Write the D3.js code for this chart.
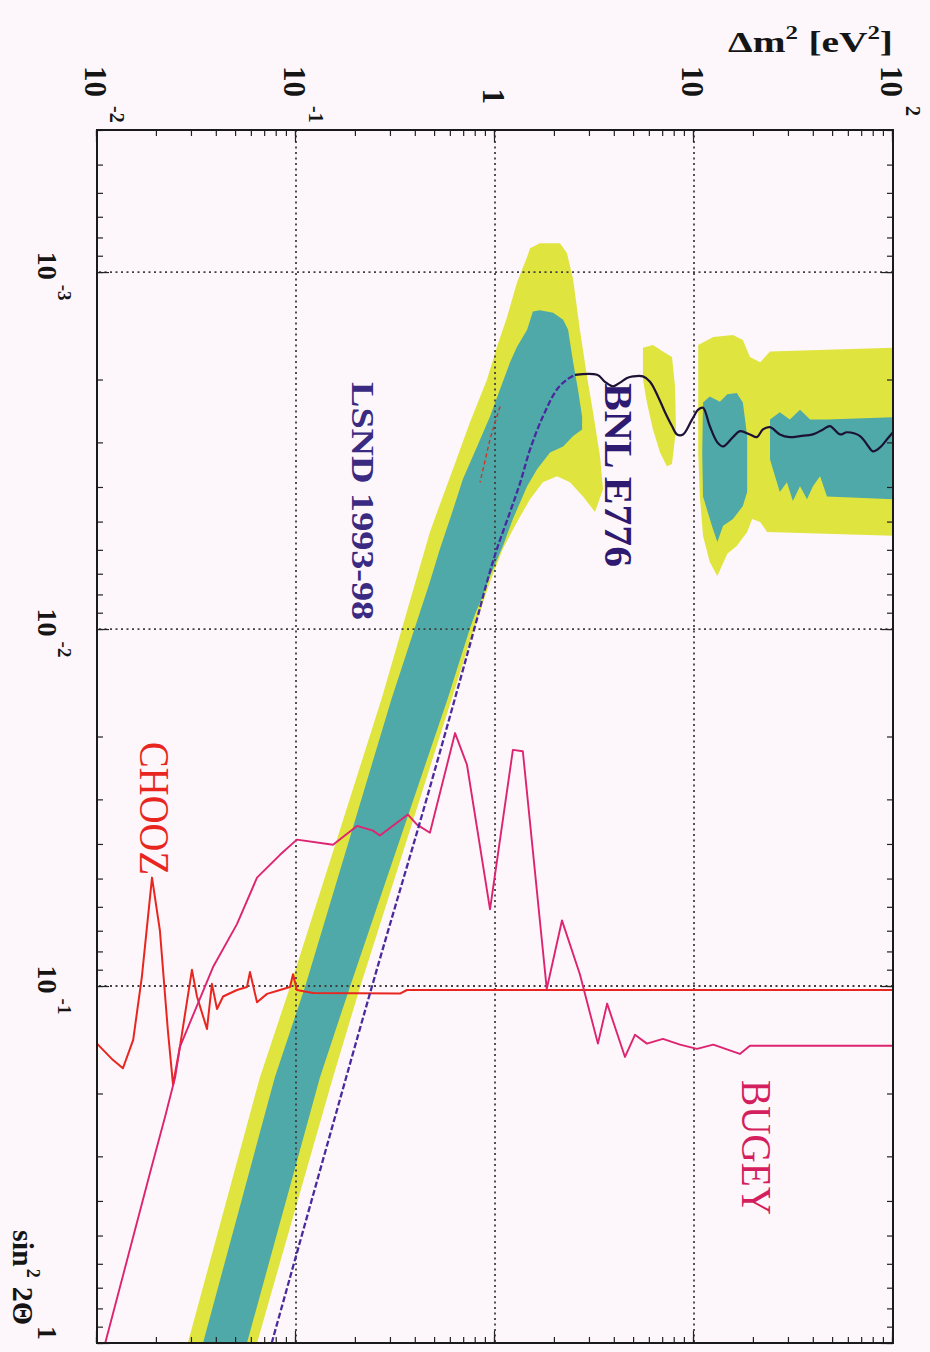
<!DOCTYPE html>
<html>
<head>
<meta charset="utf-8">
<script src="https://cdn.jsdelivr.net/npm/d3@7"></script>
<style>
  html, body { margin: 0; padding: 0; background: #fdf6fa; }
  svg { display: block; }
  text { font-family: "Liberation Serif", "Times New Roman", serif; }
</style>
</head>
<body>
<svg id="chart" width="930" height="1352"></svg>
<script>
// ---- axis ticks and labels ------------------------------------------------
const dm2Ticks = [0.01, 0.1, 1, 10, 100];
const dm2TickLabels = [["10", "-2"], ["10", "-1"], ["1", ""], ["10", ""], ["10", "2"]];
const sinTicks = [1e-3, 1e-2, 1e-1, 1];
const sinTickLabels = [["10", "-3"], ["10", "-2"], ["10", "-1"], ["1", ""]];
const dm2Grid = [0.1, 1, 10];
const sinGrid = [1e-3, 1e-2, 1e-1];

// ---- LSND allowed regions, points are [sin^2 2theta, dm^2 (eV^2)] -------
const lsnd99Main = [
  [1.0, 0.0286], [0.180, 0.0659], [0.1006, 0.0933], [0.0156, 0.270],
  [0.00535, 0.471], [0.00470, 0.512], [0.00356, 0.615], [0.00264, 0.748],
  [0.00200, 0.912], [0.00162, 1.023], [0.00134, 1.148], [0.00107, 1.29],
  [0.000908, 1.45], [0.000857, 1.50], [0.000830, 1.68], [0.000830, 2.12],
  [0.000885, 2.30], [0.00105, 2.47], [0.00145, 2.67], [0.00196, 2.90],
  [0.00247, 3.11], [0.00328, 3.37], [0.00406, 3.49], [0.00470, 3.18],
  [0.00425, 2.77], [0.00388, 2.38], [0.00373, 2.05], [0.00388, 1.74],
  [0.00433, 1.50], [0.00501, 1.29], [0.00596, 1.096], [0.00737, 0.944],
  [0.00893, 0.841], [0.00997, 0.784], [0.0156, 0.608], [0.1006, 0.210],
  [0.180, 0.1535], [1.0, 0.0637]
];
const lsnd99Blob = [
  [0.00163, 5.54], [0.00160, 6.22], [0.00167, 6.98], [0.00173, 7.75],
  [0.00209, 8.03], [0.00276, 8.12], [0.00345, 7.75], [0.00350, 7.31],
  [0.00320, 6.75], [0.00276, 6.22], [0.00232, 5.80], [0.00200, 5.54]
];
const lsnd99High = [
  [0.00160, 10.5], [0.00152, 12.5], [0.00150, 15.7], [0.00155, 17.6],
  [0.00173, 19.1], [0.00179, 21.5], [0.00167, 24.1], [0.00163, 100],
  [0.00548, 100], [0.00535, 23.3], [0.00501, 21.5], [0.00492, 19.6],
  [0.00535, 18.5], [0.00585, 16.4], [0.00615, 14.7], [0.00710, 13.1],
  [0.00649, 12.0], [0.00548, 11.1], [0.00425, 10.7], [0.00320, 10.5],
  [0.00209, 10.5]
];
const lsnd90Main = [
  [1.0, 0.0341], [0.180, 0.0783], [0.1006, 0.111], [0.0156, 0.303],
  [0.00737, 0.471], [0.00596, 0.529], [0.00492, 0.594], [0.00380, 0.690],
  [0.00308, 0.813], [0.00254, 0.944], [0.00213, 1.06], [0.00179, 1.19],
  [0.00162, 1.29], [0.00145, 1.45], [0.00129, 1.55], [0.00128, 1.68],
  [0.00130, 1.96], [0.00136, 2.20], [0.00145, 2.33], [0.00179, 2.47],
  [0.00213, 2.61], [0.00254, 2.74], [0.00276, 2.74], [0.00288, 2.47],
  [0.00308, 2.20], [0.00320, 1.89], [0.00356, 1.63], [0.00398, 1.45],
  [0.00492, 1.23], [0.00585, 1.096], [0.00710, 0.944], [0.00807, 0.871],
  [0.00893, 0.803], [0.00997, 0.748], [0.0156, 0.580], [0.1006, 0.1866],
  [0.180, 0.132], [1.0, 0.0567]
];
const lsnd90IslandA = [
  [0.00232, 11.1], [0.00223, 12.0], [0.00231, 13.5], [0.00220, 14.7],
  [0.00218, 16.4], [0.00232, 17.6], [0.00288, 18.5], [0.00413, 18.5],
  [0.00452, 17.6], [0.00492, 15.7], [0.00514, 14.0], [0.00570, 13.1],
  [0.00514, 12.3], [0.00425, 11.1], [0.00320, 11.0]
];
const lsnd90IslandB = [
  [0.00259, 24.1], [0.00247, 27.0], [0.00259, 30.3], [0.00243, 34.1],
  [0.00259, 38.3], [0.00259, 46.6], [0.00255, 100], [0.00433, 100],
  [0.00425, 46.6], [0.00373, 43.0], [0.00398, 39.6], [0.00433, 37.0],
  [0.00398, 34.1], [0.00438, 31.4], [0.00388, 29.3], [0.00413, 27.0],
  [0.00356, 24.9], [0.00335, 24.1]
];

// ---- exclusion limits, points are [sin^2 2theta, dm^2 (eV^2)] -----------
const choozLimit = [
  [0.145, 0.0100], [0.161, 0.0120], [0.170, 0.0135], [0.1415, 0.0152],
  [0.0944, 0.0168], [0.0497, 0.0189], [0.0698, 0.0207], [0.133, 0.0227],
  [0.189, 0.0241], [0.148, 0.0261], [0.0901, 0.0300], [0.107, 0.0318],
  [0.132, 0.0357], [0.0986, 0.0378], [0.116, 0.0401], [0.107, 0.0430],
  [0.1026, 0.0505], [0.1006, 0.0567], [0.0914, 0.0587], [0.111, 0.0637],
  [0.1052, 0.0715], [0.1026, 0.0831], [0.1006, 0.0933], [0.0927, 0.0966],
  [0.1026, 0.101], [0.1046, 0.122], [0.105, 0.333], [0.1026, 0.361],
  [0.1026, 100]
];
const bugeyLimit = [
  [1.0, 0.0110], [0.334, 0.01846], [0.232, 0.0220], [0.180, 0.0247],
  [0.148, 0.0261], [0.0885, 0.0383], [0.0671, 0.0505], [0.0497, 0.0637],
  [0.0429, 0.0831], [0.0389, 0.101], [0.0402, 0.1535], [0.0356, 0.2026],
  [0.0367, 0.2437], [0.0379, 0.264], [0.0331, 0.365], [0.0353, 0.4055],
  [0.0372, 0.471], [0.01956, 0.630], [0.0240, 0.723], [0.0610, 0.944],
  [0.0218, 1.23], [0.0220, 1.38], [0.1019, 1.82], [0.0655, 2.17],
  [0.0927, 2.67], [0.145, 3.29], [0.112, 3.66], [0.158, 4.50],
  [0.137, 5.05], [0.145, 5.80], [0.1406, 6.98], [0.146, 8.51],
  [0.150, 10.35], [0.146, 12.5], [0.155, 17.0], [0.147, 19.1],
  [0.147, 100]
];
const bnlLimit = [
  [1.0, 0.0755], [0.1026, 0.238], [0.0297, 0.455], [0.00935, 0.813],
  [0.00737, 0.912], [0.00596, 1.023], [0.00470, 1.19], [0.00388, 1.34],
  [0.00314, 1.50], [0.00254, 1.74], [0.00213, 2.05], [0.00200, 2.30],
  [0.00194, 2.52], [0.00194, 3.26], [0.00203, 3.57], [0.00209, 3.92],
  [0.00204, 4.25], [0.00198, 4.61], [0.00196, 4.94], [0.00196, 5.54],
  [0.00203, 6.01], [0.00223, 6.59], [0.00247, 7.15], [0.00270, 7.75],
  [0.00285, 8.22], [0.00285, 8.81], [0.00259, 9.77], [0.00243, 10.5],
  [0.00240, 11.1], [0.00270, 12.0], [0.00300, 13.1], [0.00308, 14.0],
  [0.00290, 15.7], [0.00279, 17.0], [0.00285, 19.1], [0.00290, 20.7],
  [0.00276, 22.2], [0.00272, 24.1], [0.00285, 27.0], [0.00290, 30.3],
  [0.00288, 34.1], [0.00285, 39.6], [0.00276, 44.5], [0.00270, 48.2],
  [0.00285, 54.2], [0.00281, 58.7], [0.00288, 68.3], [0.00304, 74.0],
  [0.00318, 79.3], [0.00310, 86.1], [0.00294, 93.3], [0.00281, 100]
];
const bnlSplit = 12;           // dashed below this point, solid above
const redFragment = [[0.00238, 1.06], [0.00294, 0.944], [0.00388, 0.841]];

// ---- geometry: the plot is drawn in its own frame, then turned 90 deg ----
const W = 1213, H = 796;
const sx = d3.scaleLog().domain([4e-4, 1]).range([0, W]);
const sy = d3.scaleLog().domain([0.01, 100]).range([H, 0]);

const svg = d3.select("#chart");
svg.append("rect").attr("width", 930).attr("height", 1352).attr("fill", "#fdf6fa");

const g = svg.append("g").attr("transform", "translate(893,130) rotate(90)");
g.append("clipPath").attr("id", "plotArea")
  .append("rect").attr("width", W).attr("height", H);
const plot = g.append("g").attr("clip-path", "url(#plotArea)");

const poly = d3.line().x(d => sx(d[0])).y(d => sy(d[1])).curve(d3.curveLinearClosed);
const lin = d3.line().x(d => sx(d[0])).y(d => sy(d[1]));
const smooth = d3.line().x(d => sx(d[0])).y(d => sy(d[1])).curve(d3.curveCatmullRom.alpha(0.5));

// 99% CL (yellow) then 90% CL (teal)
const YELLOW = "#e0e43e", TEAL = "#4fa9a8";
[lsnd99Main, lsnd99Blob, lsnd99High].forEach(p =>
  plot.append("path").attr("d", poly(p)).attr("fill", YELLOW));
[lsnd90Main, lsnd90IslandA, lsnd90IslandB].forEach(p =>
  plot.append("path").attr("d", poly(p)).attr("fill", TEAL));

// dotted grid
dm2Grid.forEach(v => plot.append("line")
  .attr("x1", 0).attr("x2", W).attr("y1", sy(v)).attr("y2", sy(v))
  .attr("stroke", "#404040").attr("stroke-width", 1.8).attr("stroke-dasharray", "2,3.5"));
sinGrid.forEach(v => plot.append("line")
  .attr("y1", 0).attr("y2", H).attr("x1", sx(v)).attr("x2", sx(v))
  .attr("stroke", "#404040").attr("stroke-width", 1.8).attr("stroke-dasharray", "2,3.5"));

// limit curves
plot.append("path").attr("d", lin(redFragment)).attr("fill", "none")
  .attr("stroke", "#d8321e").attr("stroke-width", 1.4).attr("stroke-dasharray", "4,3");
plot.append("path").attr("d", lin(choozLimit)).attr("fill", "none")
  .attr("stroke", "#e8261f").attr("stroke-width", 2).attr("stroke-linejoin", "round");
plot.append("path").attr("d", lin(bugeyLimit)).attr("fill", "none")
  .attr("stroke", "#dc2470").attr("stroke-width", 1.9).attr("stroke-linejoin", "round");
plot.append("path").attr("d", smooth(bnlLimit.slice(0, bnlSplit + 1))).attr("fill", "none")
  .attr("stroke", "#4a2a9e").attr("stroke-width", 2.3).attr("stroke-dasharray", "6,2.5");
plot.append("path").attr("d", smooth(bnlLimit.slice(bnlSplit))).attr("fill", "none")
  .attr("stroke", "#1c1236").attr("stroke-width", 2.2);

// frame ticks (inside), minor and major
function ticks(axisFn, scale, pos, values, size) {
  const a = axisFn(scale).tickValues(values).tickSize(-size).tickFormat("");
  const el = g.append("g").attr("transform", pos).call(a);
  el.select(".domain").remove();
  el.selectAll("line").attr("stroke", "#222").attr("stroke-width", 1.2);
}
const sinMinor = sx.ticks().filter(v => v >= 4e-4 && v <= 1);
const dmMinor = sy.ticks();
ticks(d3.axisBottom, sx, `translate(0,${H})`, sinMinor, 6);
ticks(d3.axisTop, sx, "translate(0,0)", sinMinor, 6);
ticks(d3.axisLeft, sy, "translate(0,0)", dmMinor, 6);
ticks(d3.axisRight, sy, `translate(${W},0)`, dmMinor, 6);
ticks(d3.axisBottom, sx, `translate(0,${H})`, sinTicks, 12);
ticks(d3.axisTop, sx, "translate(0,0)", sinTicks, 12);
ticks(d3.axisLeft, sy, "translate(0,0)", dm2Ticks, 12);
ticks(d3.axisRight, sy, `translate(${W},0)`, dm2Ticks, 12);

g.append("rect").attr("width", W).attr("height", H)
  .attr("fill", "none").attr("stroke", "#1a1a1a").attr("stroke-width", 2);

// sin^2 2theta tick labels (below the frame in the plot's own frame)
sinTicks.forEach((v, i) => {
  const [base, sup] = sinTickLabels[i];
  const last = i === sinTicks.length - 1;
  const t = g.append("text").attr("x", last ? sx(v) - 3 : sx(v) + 4).attr("y", H + 59)
    .attr("text-anchor", last ? "end" : "middle").attr("font-size", 28).attr("font-weight", "bold")
    .attr("fill", "#151515");
  t.append("tspan").text(base);
  if (sup) t.append("tspan").attr("dx", 5).attr("dy", -20).attr("font-size", 19).text(sup);
});

// dm^2 tick labels (left of the frame)
dm2Ticks.forEach((v, i) => {
  const [base, sup] = dm2TickLabels[i];
  const end = base === "1" ? -26 : -33;
  g.append("text").attr("x", end).attr("y", sy(v) + 12)
    .attr("text-anchor", "end").attr("font-size", 31).attr("font-weight", "bold")
    .attr("fill", "#151515").text(base);
  if (sup) g.append("text").attr("x", -24).attr("y", sy(v) - 13)
    .attr("text-anchor", "start").attr("font-size", 20).attr("font-weight", "bold")
    .attr("fill", "#151515").text(sup);
});

// axis titles
const xTitle = g.append("text").attr("x", W - 18).attr("y", H + 84)
  .attr("text-anchor", "end").attr("font-size", 30).attr("font-weight", "bold")
  .attr("fill", "#151515");
xTitle.append("tspan").text("sin");
xTitle.append("tspan").attr("dy", -14).attr("dx", 2).attr("font-size", 18).text("2");
xTitle.append("tspan").attr("dy", 14).attr("dx", 9).text("2Θ");

const yTitle = svg.append("text").attr("x", 893).attr("y", 52)
  .attr("text-anchor", "end").attr("font-size", 30).attr("font-weight", "bold")
  .attr("fill", "#151515").attr("textLength", 165).attr("lengthAdjust", "spacingAndGlyphs");
yTitle.append("tspan").text("Δm");
yTitle.append("tspan").attr("dy", -13).attr("font-size", 19).text("2");
yTitle.append("tspan").attr("dy", 13).attr("dx", 8).text("[eV");
yTitle.append("tspan").attr("dy", -13).attr("font-size", 19).text("2");
yTitle.append("tspan").attr("dy", 13).text("]");

// curve labels
const labels = [
  { text: "LSND 1993-98", u: 252, v: 541, size: 32, len: 238, color: "#3a2a82", weight: "bold" },
  { text: "BNL E776", u: 253, v: 288, size: 39, len: 184, color: "#2e1a70", weight: "bold" },
  { text: "CHOOZ", u: 612, v: 753, size: 42, len: 133, color: "#e8261f", weight: "normal" },
  { text: "BUGEY", u: 950, v: 151, size: 42, len: 135, color: "#d41e5e", weight: "normal" }
];
labels.forEach(l => g.append("text").attr("x", l.u).attr("y", l.v)
  .attr("font-size", l.size).attr("font-weight", l.weight).attr("fill", l.color)
  .attr("textLength", l.len).attr("lengthAdjust", "spacingAndGlyphs").text(l.text));
</script>
</body>
</html>
